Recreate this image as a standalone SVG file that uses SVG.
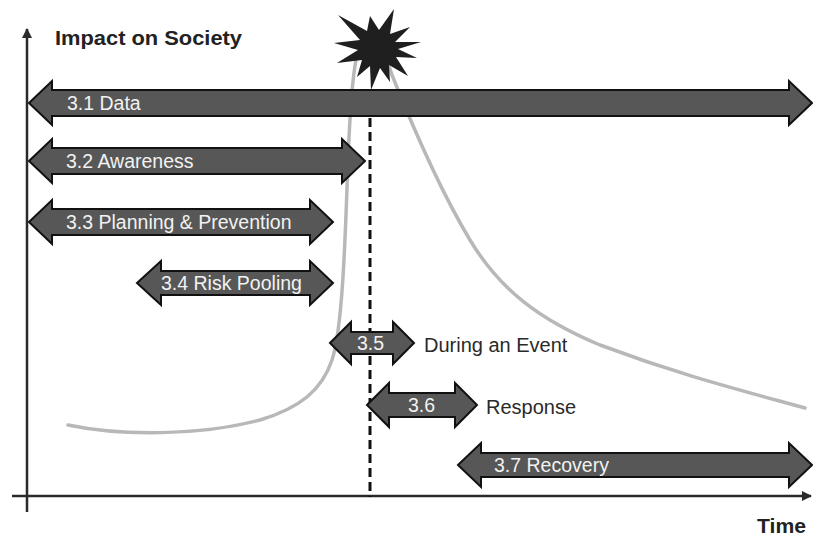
<svg xmlns="http://www.w3.org/2000/svg" width="813" height="537" viewBox="0 0 813 537">
<defs>
<style>
.arrow{fill:#575757;stroke:#111;stroke-width:2;stroke-linejoin:miter}
.lbl{font-family:"Liberation Sans",Arial,sans-serif;font-size:19.5px;fill:#f2f2f2}
.side{font-family:"Liberation Sans",Arial,sans-serif;font-size:20px;fill:#2a2a2a}
.axisT{font-family:"Liberation Sans",Arial,sans-serif;font-size:20px;font-weight:bold;fill:#222}
.axis{stroke:#2a2a2a;stroke-width:2.5;fill:none}
.curve{stroke:#b8b8b8;stroke-width:3.5;fill:none;stroke-linecap:round}
</style>
<marker id="ah" viewBox="0 0 10 10" refX="9" refY="5" markerWidth="4" markerHeight="4" orient="auto" markerUnits="strokeWidth">
<path d="M0,0 L10,5 L0,10 Z" fill="#2a2a2a"/>
</marker>
</defs>
<rect width="813" height="537" fill="#ffffff"/>

<g id="impact-curve">
<path class="curve" d="M68,425 C120,436 200,436 260,420 C300,408 322,390 332,360 C342,330 345,250 348,160 C350,110 352,80 356,60 C360,40 382,40 392,75 C410,120 440,190 470,240 C500,290 540,320 600,345 C680,375 740,390 805,408"/>
</g>

<g id="axes">
<line class="axis" x1="27" y1="512" x2="27" y2="29" marker-end="url(#ah)"/>
<line class="axis" x1="12" y1="496" x2="811" y2="496" marker-end="url(#ah)"/>
<text class="axisT" x="55" y="45" textLength="187" lengthAdjust="spacingAndGlyphs">Impact on Society</text>
<text class="axisT" x="757" y="533" textLength="49" lengthAdjust="spacingAndGlyphs">Time</text>
</g>

<g id="event-star">
<polygon fill="#1f1f1f" points="338,15 367,31 370,16 379,30 394,9 390,34 410,27 395,42 421,42 398,49 417,58 396,57 408,76 389,65 390,82 380,68 371,90 370,66 357,77 362,60 337,63 358,50 334,43 360,40"/>
</g>

<g id="n31">
<path class="arrow" d="M29,103 L52,81 L52,90 L789,90 L789,81 L812,103 L789,125 L789,116 L52,116 L52,125 Z"/>
<text class="lbl" x="67" y="110">3.1 Data</text>
</g>
<g id="n32">
<path class="arrow" d="M29,161 L52,139 L52,148 L342,148 L342,139 L365,161 L342,183 L342,174 L52,174 L52,183 Z"/>
<text class="lbl" x="66" y="168">3.2 Awareness</text>
</g>
<g id="n33">
<path class="arrow" d="M29,222 L52,200 L52,209 L310,209 L310,200 L333,222 L310,244 L310,235 L52,235 L52,244 Z"/>
<text class="lbl" x="66" y="229">3.3 Planning &amp; Prevention</text>
</g>
<g id="n34">
<path class="arrow" d="M137,283 L161,261 L161,271 L310,271 L310,261 L333,283 L310,305 L310,295 L161,295 L161,305 Z"/>
<text class="lbl" x="161" y="290">3.4 Risk Pooling</text>
</g>

<g id="event-line">
<line x1="370" y1="118" x2="370" y2="497" stroke="#111" stroke-width="3" stroke-dasharray="9,5"/>
</g>

<g id="n35">
<path class="arrow" d="M330,343 L351,322 L351,332 L393,332 L393,322 L414,343 L393,364 L393,354 L351,354 L351,364 Z"/>
<text class="lbl" x="357" y="350">3.5</text>
<text class="side" x="424" y="352">During an Event</text>
</g>
<g id="n36">
<path class="arrow" d="M367,405 L389,383 L389,393 L455,393 L455,383 L477,405 L455,427 L455,417 L389,417 L389,427 Z"/>
<text class="lbl" x="408" y="412">3.6</text>
<text class="side" x="486" y="414">Response</text>
</g>
<g id="n37">
<path class="arrow" d="M458,465 L481,443 L481,453 L789,453 L789,443 L812,465 L789,487 L789,477 L481,477 L481,487 Z"/>
<text class="lbl" x="494" y="472">3.7 Recovery</text>
</g>
</svg>
